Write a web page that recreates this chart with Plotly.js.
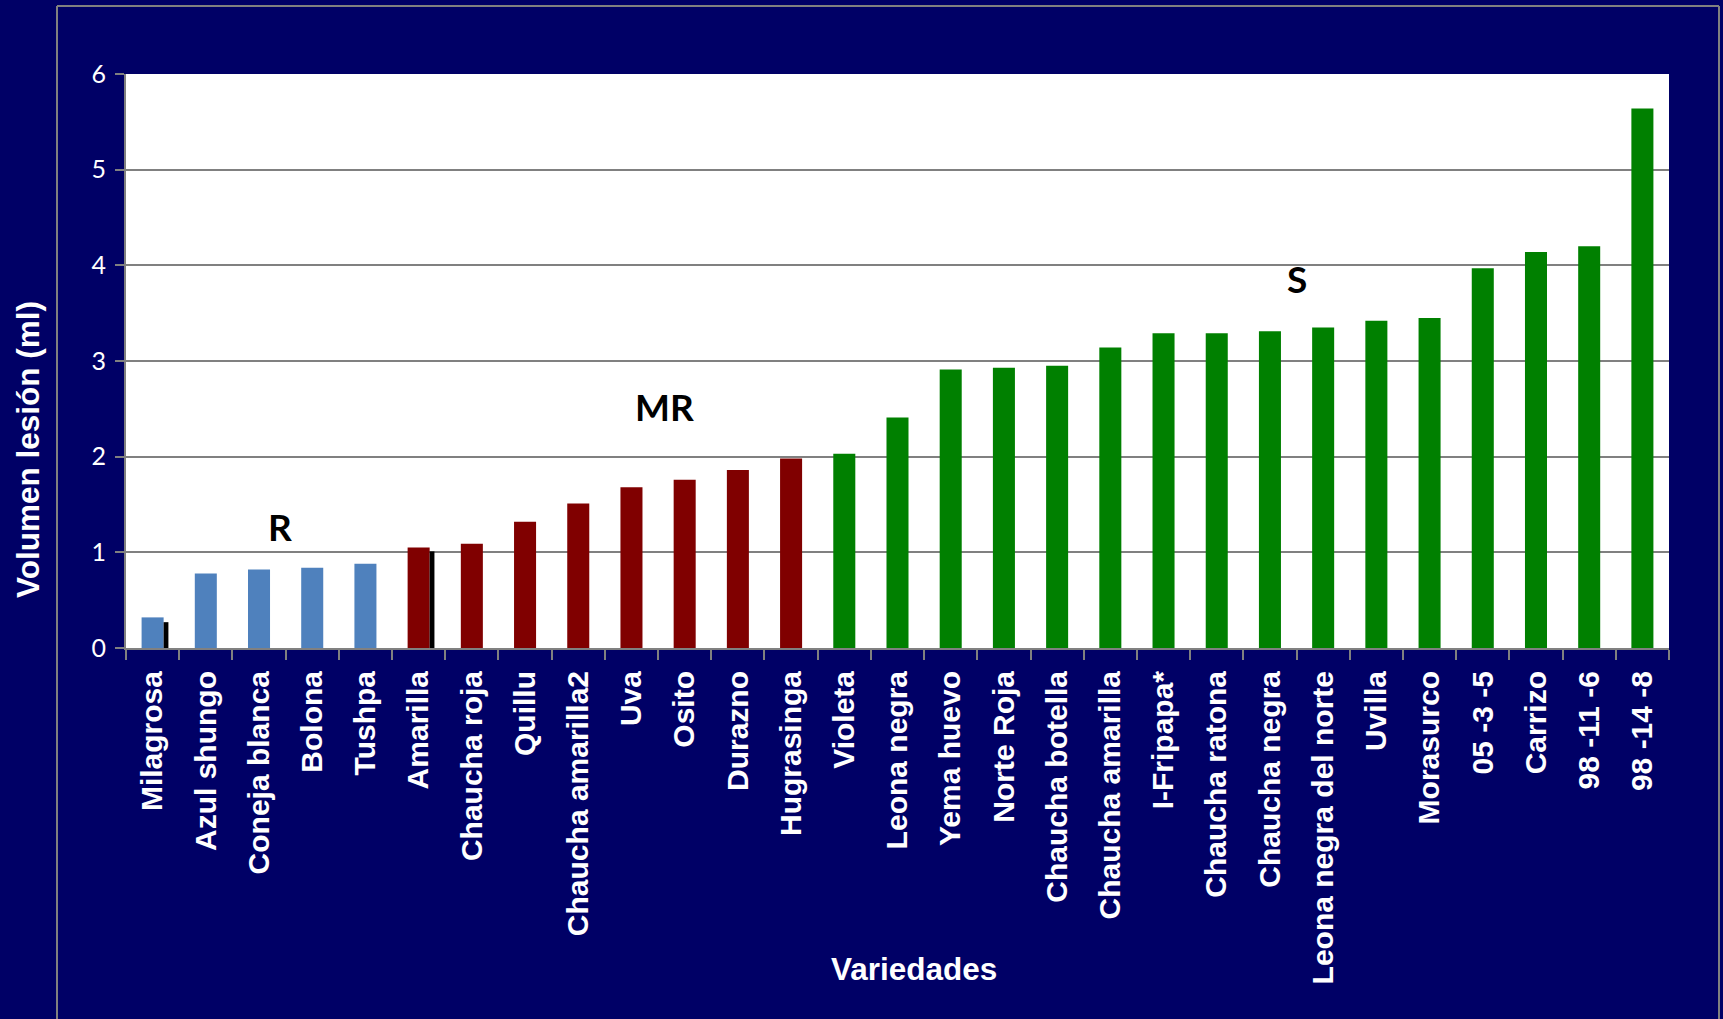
<!DOCTYPE html>
<html><head><meta charset="utf-8">
<script src="https://cdn.plot.ly/plotly-3.0.1.min.js"></script>
<style>html,body{margin:0;padding:0;background:#000066;} #chart{width:1723px;height:1019px;}</style>
</head><body><div id="chart"></div>
<script>
// ---- data ----
const varieties = ['Milagrosa','Azul shungo','Coneja blanca','Bolona','Tushpa','Amarilla','Chaucha roja','Quillu','Chaucha amarilla2','Uva','Osito','Durazno','Hugrasinga','Violeta','Leona negra','Yema huevo','Norte Roja','Chaucha botella','Chaucha amarilla','I-Fripapa*','Chaucha ratona','Chaucha negra','Leona negra del norte','Uvilla','Morasurco','05 -3 -5','Carrizo','98 -11 -6','98 -14 -8'];
const lesionVolume = [0.32,0.78,0.82,0.84,0.88,1.05,1.09,1.32,1.51,1.68,1.76,1.86,1.98,2.03,2.41,2.91,2.93,2.95,3.14,3.29,3.29,3.31,3.35,3.42,3.45,3.97,4.14,4.20,5.64];
const resistanceGroup = ['R','R','R','R','R','MR','MR','MR','MR','MR','MR','MR','MR','S','S','S','S','S','S','S','S','S','S','S','S','S','S','S','S'];
const secondSeries = [0.27,null,null,null,null,1.01,null,null,null,null,null,null,null,null,null,null,null,null,null,null,null,null,null,null,null,null,null,null,null];
const groupNames = ['R','MR','S'];
const yTicks = [0,1,2,3,4,5,6];
const xTitle = 'Variedades';
const yTitle = 'Volumen lesión (ml)';

// ---- styles ----
const groupColors = {R:'#4F81BD', MR:'#800000', S:'#008000'};
const groupLabelPos = {R:{x:2.39,y:1.27}, MR:{x:9.63,y:2.52}, S:{x:21.51,y:3.86}};
const grey = '#808080';
const bg = '#000066';

// plot area in pixels
const W = 1723, H = 1019, L = 126, R = 1669, T = 74, B = 648;
const px = v => (v - L) / (R - L);
const py = v => (B - v) / (B - T);

const traces = [
  {type:'bar', x: varieties, y: lesionVolume, width: 0.414,
   marker:{color: resistanceGroup.map(g => groupColors[g])}, hoverinfo:'x+y'},
  {type:'bar', x: varieties, y: secondSeries, width: 0.09, offset: 0.207,
   marker:{color:'#000000'}, hoverinfo:'x+y'}
];

const annotations = groupNames.map(g => ({
  x: groupLabelPos[g].x, y: groupLabelPos[g].y, xref:'x', yref:'y', text: g, showarrow:false,
  font:{family:'Lato, Open Sans, sans-serif', size:37, color:'#000000', weight:'bold'},
  xanchor:'center', yanchor:'middle'
}));
annotations.push({
  x: px(28), y: py(449), xref:'paper', yref:'paper', text: yTitle, textangle:-90, showarrow:false,
  font:{family:'Liberation Sans, Arial, sans-serif', size:31.5, color:'#ffffff', weight:'bold'},
  xanchor:'center', yanchor:'middle'
});
annotations.push({
  x: px(914), y: py(969), xref:'paper', yref:'paper', text: xTitle, showarrow:false,
  font:{family:'Liberation Sans, Arial, sans-serif', size:31.5, color:'#ffffff', weight:'bold'},
  xanchor:'center', yanchor:'middle'
});

const frame = {color: grey, width: 2};
const shapes = [
  {type:'line', xref:'paper', yref:'paper', x0:px(57), x1:px(57), y0:py(6), y1:py(1040), line:frame},
  {type:'line', xref:'paper', yref:'paper', x0:px(1719), x1:px(1719), y0:py(6), y1:py(1040), line:frame},
  {type:'line', xref:'paper', yref:'paper', x0:px(57), x1:px(1719), y0:py(6), y1:py(6), line:frame}
];

const layout = {
  width: W, height: H,
  margin:{l:L, r:W-R, t:T, b:H-B, pad:0},
  paper_bgcolor: bg, plot_bgcolor:'#ffffff',
  barmode:'overlay', showlegend:false,
  xaxis:{type:'category', tickangle:-90, ticks:'outside', tickson:'boundaries', ticklen:10,
         tickwidth:2, tickcolor:grey, showline:true, linecolor:grey, linewidth:2,
         showgrid:false, automargin:false, ticklabelstandoff:9,
         tickfont:{family:'Liberation Sans, Arial, sans-serif', size:30, color:'#ffffff', weight:'bold'}},
  yaxis:{range:[0,6], tickvals:yTicks, ticks:'outside', ticklen:9, tickwidth:2, tickcolor:grey,
         showline:true, linecolor:grey, linewidth:2, showgrid:true, gridcolor:grey, gridwidth:2,
         zeroline:false, automargin:false, ticklabelstandoff:4,
         tickfont:{family:'Lato, Open Sans, sans-serif', size:25, color:'#ffffff'}},
  annotations: annotations,
  shapes: shapes
};

Plotly.newPlot('chart', traces, layout, {displayModeBar:false, responsive:false});
</script>
</body></html>
